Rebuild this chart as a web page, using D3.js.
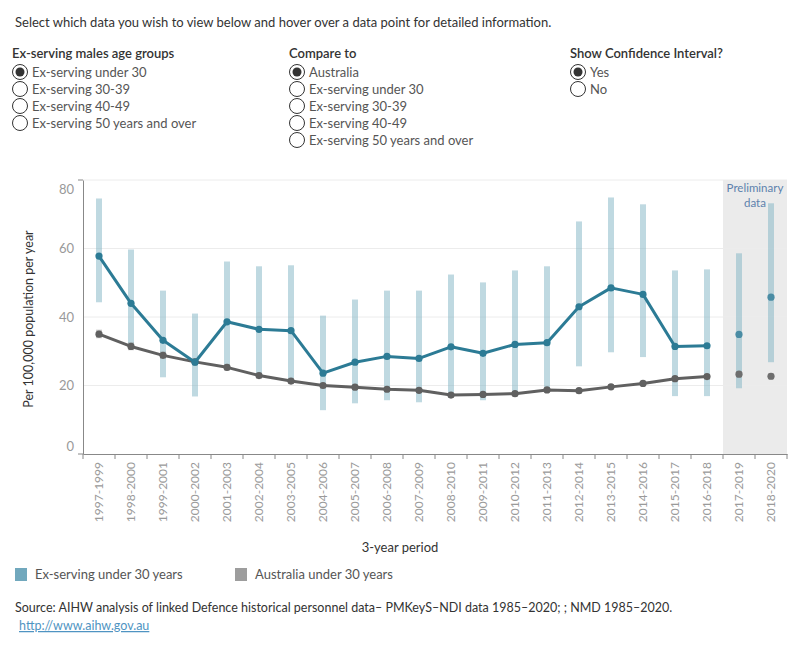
<!DOCTYPE html>
<html>
<head>
<meta charset="utf-8">
<script src="https://cdn.jsdelivr.net/npm/d3@7"></script>
<style>
  body { margin: 0; background: #fff; }
  svg { display: block; font-family: Lato, "Noto Sans", sans-serif; }
</style>
</head>
<body>
<svg id="chart" width="800" height="650"></svg>
<script>
// ---- DATA ----
const periods = ["1997-1999","1998-2000","1999-2001","2000-2002","2001-2003","2002-2004","2003-2005","2004-2006","2005-2007","2006-2008","2007-2009","2008-2010","2009-2011","2010-2012","2011-2013","2012-2014","2013-2015","2014-2016","2015-2017","2016-2018","2017-2019","2018-2020"];
const exServing = [57.8, 44.0, 33.2, 26.8, 38.6, 36.4, 36.0, 23.6, 26.8, 28.5, 27.9, 31.3, 29.4, 32.0, 32.5, 43.0, 48.5, 46.6, 31.4, 31.6, 34.9, 45.8];
const exLower   = [44.3, 31.0, 22.4, 16.8, 24.6, 23.0, 20.8, 12.8, 14.8, 15.7, 15.1, 17.9, 15.7, 18.0, 18.8, 25.6, 29.7, 28.3, 16.9, 16.9, 19.2, 26.8];
const exUpper   = [74.6, 59.7, 47.7, 41.0, 56.2, 54.8, 55.1, 40.4, 45.1, 47.7, 47.7, 52.4, 50.1, 53.6, 54.8, 67.9, 74.9, 72.9, 53.6, 53.9, 58.6, 73.2];
const australia = [35.0, 31.4, 28.8, 26.9, 25.3, 22.9, 21.3, 20.0, 19.5, 18.9, 18.6, 17.2, 17.4, 17.6, 18.7, 18.5, 19.6, 20.6, 22.0, 22.6, 23.3, 22.7];
const ausLower  = [33.8, 30.3, 27.8, 25.9, 24.3, 22.0, 20.4, 19.2, 18.7, 18.1, 17.8, 16.4, 16.6, 16.8, 17.9, 17.7, 18.8, 19.8, 21.2, 21.8, 22.4, 21.8];
const ausUpper  = [36.3, 32.6, 29.9, 27.9, 26.3, 23.8, 22.2, 20.8, 20.3, 19.7, 19.4, 18.0, 18.2, 18.4, 19.5, 19.3, 20.4, 21.4, 22.8, 23.4, 24.2, 23.6];
const preliminaryPeriods = ["2017-2019","2018-2020"];
const yTicks = [0, 20, 40, 60, 80];
const ageGroups = ["Ex-serving under 30","Ex-serving 30-39","Ex-serving 40-49","Ex-serving 50 years and over"];
const compareTo = ["Australia","Ex-serving under 30","Ex-serving 30-39","Ex-serving 40-49","Ex-serving 50 years and over"];
const ciOptions = ["Yes","No"];
const legendItems = ["Ex-serving under 30 years","Australia under 30 years"];

const svg = d3.select("#chart");
const textCol = "#333";

// ---- header / controls ----
svg.append("text").attr("x", 15).attr("y", 27).attr("font-size", 13).attr("fill", textCol)
  .text("Select which data you wish to view below and hover over a data point for detailed information.");

function radioGroup(x, title, items, selected) {
  svg.append("text").attr("x", x - 8).attr("y", 58).attr("font-size", 13).attr("font-weight", 600)
    .attr("fill", textCol).text(title);
  const g = svg.append("g");
  items.forEach((t, i) => {
    const cy = 72 + i * 17;
    g.append("circle").attr("cx", x).attr("cy", cy).attr("r", 7.5)
      .attr("fill", "#fff").attr("stroke", "#333").attr("stroke-width", 1);
    if (i === selected) {
      g.append("circle").attr("cx", x).attr("cy", cy).attr("r", 4.5).attr("fill", "#333");
    }
    g.append("text").attr("x", x + 12).attr("y", cy + 4.5).attr("font-size", 13)
      .attr("fill", "#555").text(t);
  });
}
radioGroup(20, "Ex-serving males age groups", ageGroups, 0);
radioGroup(297, "Compare to", compareTo, 0);
radioGroup(578, "Show Confidence Interval?", ciOptions, 0);

// ---- chart ----
const x = d3.scaleBand().domain(periods).range([83, 787]).paddingInner(0).paddingOuter(0);
const y = d3.scaleLinear().domain([0, 80]).range([454, 180]);
const cx = p => x(p) + x.bandwidth() / 2;

// preliminary shading
const px0 = x(preliminaryPeriods[0]);
svg.append("rect").attr("x", px0).attr("y", y(80)).attr("width", x.range()[1] - px0)
  .attr("height", y(0) - y(80)).attr("fill", "#ebebeb");
svg.append("text").attr("x", (px0 + x.range()[1]) / 2).attr("y", 192).attr("text-anchor", "middle")
  .attr("font-size", 11.5).attr("fill", "#5d82ad").text("Preliminary");
svg.append("text").attr("x", (px0 + x.range()[1]) / 2).attr("y", 207).attr("text-anchor", "middle")
  .attr("font-size", 11.5).attr("fill", "#5d82ad").text("data");

// gridlines
svg.append("g").selectAll("line").data(yTicks.filter(d => d > 0)).join("line")
  .attr("x1", 83).attr("x2", 787).attr("y1", d => y(d)).attr("y2", d => y(d))
  .attr("stroke", "#ececec").attr("stroke-width", 1);

// y axis
const yAxis = svg.append("g").attr("transform", "translate(83,0)")
  .call(d3.axisLeft(y).tickValues(yTicks).tickSize(0).tickPadding(9).tickFormat(d3.format("d")));
yAxis.select(".domain").attr("stroke", "#888");
yAxis.selectAll("text").attr("font-size", 13).attr("fill", "#999").attr("font-family", "Lato, 'Noto Sans', sans-serif")
  .attr("dy", d => d === 80 ? "1.05em" : d === 0 ? "-0.25em" : "0.32em");
svg.append("line").attr("x1", 78).attr("x2", 83).attr("y1", y(80)).attr("y2", y(80)).attr("stroke", "#888");
svg.append("line").attr("x1", 78).attr("x2", 83).attr("y1", y(0)).attr("y2", y(0)).attr("stroke", "#888");
svg.append("text").attr("transform", `translate(33,${(y(0) + y(80)) / 2 + 2}) rotate(-90)`)
  .attr("text-anchor", "middle").attr("font-size", 12.5).attr("fill", textCol)
  .text("Per 100,000 population per year");

// x axis
const xAxis = svg.append("g").attr("transform", "translate(0,454)")
  .call(d3.axisBottom(x).tickSize(0).tickPadding(0));
xAxis.select(".domain").attr("stroke", "#888");
xAxis.selectAll(".tick text").attr("font-size", 12).attr("fill", "#9a9a9a")
  .attr("font-family", "Lato, 'Noto Sans', sans-serif")
  .attr("transform", "rotate(-90)").attr("text-anchor", "end")
  .attr("x", -8).attr("y", 0).attr("dy", "0.35em");
const boundaries = periods.map(p => x(p)).concat([x.range()[1]]);
svg.append("g").selectAll("line").data(boundaries).join("line")
  .attr("x1", d => d).attr("x2", d => d).attr("y1", 454).attr("y2", 459)
  .attr("stroke", "#888");
svg.append("text").attr("x", 400).attr("y", 552).attr("text-anchor", "middle")
  .attr("font-size", 13).attr("fill", textCol).text("3-year period");

// CI bars
svg.append("g").selectAll("rect").data(periods).join("rect")
  .attr("x", d => cx(d) - 3).attr("width", 6)
  .attr("y", (d, i) => y(exUpper[i])).attr("height", (d, i) => y(exLower[i]) - y(exUpper[i]))
  .attr("fill", "#7fb3c3").attr("opacity", 0.5);
svg.append("g").selectAll("rect").data(periods).join("rect")
  .attr("x", d => cx(d) - 3).attr("width", 6)
  .attr("y", (d, i) => y(ausUpper[i])).attr("height", (d, i) => y(ausLower[i]) - y(ausUpper[i]))
  .attr("fill", "#8a8a8a").attr("opacity", 0.45);

// lines (not through preliminary periods)
const mainIdx = periods.map((p, i) => i).filter(i => !preliminaryPeriods.includes(periods[i]));
const line = vals => d3.line().x(i => cx(periods[i])).y(i => y(vals[i]))(mainIdx);
svg.append("path").attr("d", line(australia)).attr("fill", "none")
  .attr("stroke", "#606060").attr("stroke-width", 3).attr("stroke-linejoin", "round");
svg.append("g").selectAll("circle").data(periods).join("circle")
  .attr("cx", d => cx(d)).attr("cy", (d, i) => y(australia[i])).attr("r", 3.6)
  .attr("fill", (d) => preliminaryPeriods.includes(d) ? "#6e6e6e" : "#606060");
svg.append("path").attr("d", line(exServing)).attr("fill", "none")
  .attr("stroke", "#2c7b95").attr("stroke-width", 3).attr("stroke-linejoin", "round");
svg.append("g").selectAll("circle").data(periods).join("circle")
  .attr("cx", d => cx(d)).attr("cy", (d, i) => y(exServing[i])).attr("r", 3.6)
  .attr("fill", d => preliminaryPeriods.includes(d) ? "#4a8ca4" : "#2c7b95");

// legend
const legendColors = ["#71a8bd", "#9d9d9d"];
const legendX = [15, 235];
legendItems.forEach((t, i) => {
  svg.append("rect").attr("x", legendX[i]).attr("y", 568).attr("width", 12).attr("height", 13)
    .attr("fill", legendColors[i]);
  svg.append("text").attr("x", legendX[i] + 20).attr("y", 579).attr("font-size", 13)
    .attr("fill", "#555").text(t);
});

// source
svg.append("text").attr("x", 15).attr("y", 612).attr("font-size", 12.5).attr("fill", textCol)
  .text("Source: AIHW analysis of linked Defence historical personnel data– PMKeyS–NDI data 1985–2020; ; NMD 1985–2020.");
svg.append("text").attr("x", 19).attr("y", 630).attr("font-size", 12.5).attr("fill", "#4f94c2")
  .attr("text-decoration", "underline").text("http://www.aihw.gov.au");
</script>
</body>
</html>
